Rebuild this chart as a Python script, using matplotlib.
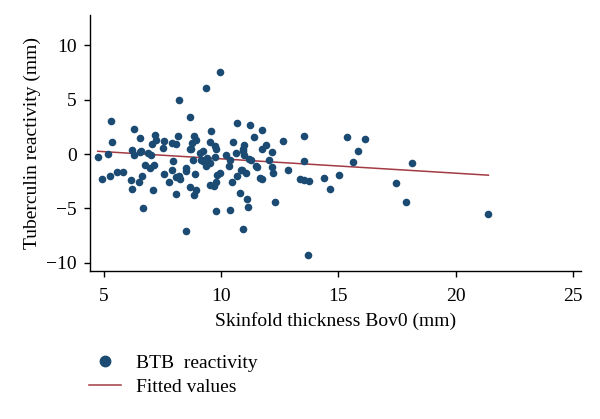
import matplotlib
matplotlib.use("Agg")
import matplotlib.pyplot as plt
from matplotlib.lines import Line2D

skinfold = [9.96, 9.35, 8.19, 5.30, 8.65, 6.29, 10.66, 9.55, 11.24, 5.33, 6.53, 7.17, 7.23, 7.06,
            7.55, 8.17, 7.88, 8.08, 8.85, 8.94, 8.68, 9.53, 9.75, 9.79, 11.38, 10.52, 10.97, 10.93,
            10.64, 6.2, 4.73, 5.15, 9.22, 10.2, 4.92, 5.26, 5.56, 5.79, 6.26, 6.54, 6.73, 6.94,
            7.01, 7.15, 6.6, 6.51, 6.17, 6.18, 7.1, 6.65, 7.57, 7.79, 7.91, 7.94, 8.08, 8.19,
            8.25, 8.08, 8.51, 8.48, 8.68, 8.92, 8.85, 8.9, 8.79, 8.71, 9.08, 9.22, 9.33, 9.39,
            9.53, 9.5, 9.69, 9.76, 9.76, 9.82, 9.96, 9.72, 10.36, 10.32, 10.47, 10.36, 10.67,
            10.9, 11.07, 10.79, 11.1, 11.13, 10.93, 11.18, 11.5, 11.64, 11.74, 10.93, 10.96,
            11.73, 11.93, 12.17, 12.03, 11.54, 12.18, 12.21, 11.74, 12.62, 12.85, 12.31, 13.53,
            13.53, 13.36, 13.53, 13.73, 13.7, 14.4, 14.62, 15.02, 15.37, 16.13, 15.84, 15.62,
            17.44, 18.15, 17.87, 21.37, 6.87, 7.51, 8.75, 9.15, 9.43, 8.51, 6.59, 10.86, 11.29]
reactivity = [7.6, 6.1, 5.0, 3.0, 3.4, 2.3, 2.9, 2.1, 2.65, 1.1, 1.45, 1.8, 1.33, 0.93,
              1.17, 1.7, 1.05, 0.93, 1.63, 1.33, 0.5, 1.15, 0.72, 0.5, 1.54, 1.08, 0.87, 0.5,
              0.1, 0.35, -0.3, 0.05, 0.26, -0.05, -2.28, -2.03, -1.67, -1.64, -0.1, 0.17, -0.96, -1.27,
              -0.05, -0.96, -2.03, -2.59, -2.4, -3.2, -3.26, -4.97, -1.79, -2.59, -1.42, -0.66, -2.1, -1.97,
              -2.28, -3.65, -1.58, -7.1, -3.04, -3.26, -3.72, -1.79, -0.57, 0.48, 0.11, -0.66, -1.05, -0.35,
              -0.81, -2.8, -2.95, -2.59, -5.21, -1.88, -1.72, -0.26, -0.5, -1.05, -2.59, -5.1, -2.03,
              -1.49, -1.72, -3.56, -4.11, -4.84, -6.93, -0.44, -1.12, -2.18, 2.18, 0.26, -0.05,
              0.48, 0.84, 0.23, -0.5, -1.15, -1.15, -1.72, -2.28, 1.24, -1.49, -4.39, 1.67,
              -0.62, -2.28, -2.34, -2.43, -9.28, -2.16, -3.23, -1.94, 1.54, 1.42, 0.26, -0.72,
              -2.64, -0.78, -4.39, -5.52, 0.11, 0.57, 1.03, -0.5, -0.66, -1.27, 0.26, -1.42, -0.5]

fit_x = [4.73, 21.4]
fit_y = [0.26, -1.94]

x_ticks = [5, 10, 15, 20, 25]
y_ticks = [10, 5, 0, -5, -10]

plt.rcParams['font.family'] = ['Liberation Serif', 'DejaVu Serif']

fig = plt.figure(figsize=(6.0, 4.19), dpi=100)
ax = fig.add_axes([90.0/600, 1-270.7/419, (581-90.0)/600, (270.7-15)/419])

dot_color = '#1b4a72'
line_color = '#a33a44'

ax.scatter(skinfold, reactivity, s=30, color=dot_color, linewidths=0, zorder=3)
ax.plot(fit_x, fit_y, color=line_color, lw=1.1, zorder=2)

ax.set_xlim(4.4, 25.35)
ax.set_ylim(-10.73, 12.8)
ax.set_xticks(x_ticks)
ax.set_yticks(y_ticks)
ax.tick_params(direction='out', length=4.5, width=1, labelsize=14, colors='black')
ax.tick_params(axis='x', pad=8)
ax.tick_params(axis='y', pad=5)
for s in ['top', 'right']:
    ax.spines[s].set_visible(False)
for s in ['left', 'bottom']:
    ax.spines[s].set_linewidth(1.0)

ax.set_xlabel('Skinfold thickness Bov0 (mm)', fontsize=14, labelpad=5)
ax.set_ylabel('Tuberculin reactivity (mm)', fontsize=14, labelpad=4)

handles = [Line2D([], [], marker='o', linestyle='None', color=dot_color, markersize=7.5),
           Line2D([], [], color=line_color, lw=1.1)]
fig.legend(handles, ['BTB  reactivity', 'Fitted values'], loc='upper left',
           bbox_to_anchor=(89/600, 1-354/419), frameon=False, fontsize=14,
           borderaxespad=0, borderpad=0,
           handlelength=1.65, handletextpad=0.75, labelspacing=0.35)

fig.savefig('out.png', dpi=100)
